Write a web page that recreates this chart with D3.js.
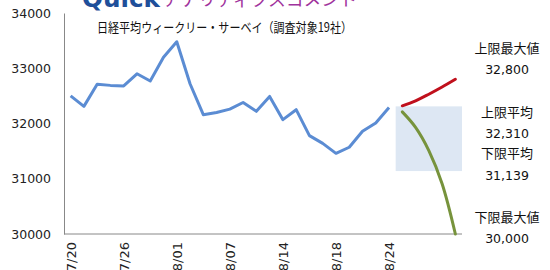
<!DOCTYPE html>
<html>
<head>
<meta charset="utf-8">
<script src="https://cdn.jsdelivr.net/npm/d3@7"></script>
<style>
  html, body { margin: 0; padding: 0; background: #fff; overflow: hidden; }
  svg { display: block; }
</style>
</head>
<body>
<div id="chart"></div>
<script>
// trading days, actual closes, then 5 forecast days
var dates = ["07/20","07/21","07/24","07/25","07/26","07/27","07/28","07/31",
  "08/01","08/02","08/03","08/04","08/07","08/08","08/09","08/10","08/14",
  "08/15","08/16","08/17","08/18","08/21","08/22","08/23","08/24",
  "08/25","08/28","08/29","08/30","08/31"];
var tickDates = ["07/20","07/26","08/01","08/07","08/14","08/18","08/24"];
var nikkei = [32500, 32310, 32710, 32690, 32680, 32900, 32770, 33200,
  33480, 32720, 32160, 32200, 32260, 32380, 32220, 32490, 32070,
  32250, 31780, 31640, 31460, 31570, 31860, 32010, 32290];
var forecastDates = ["08/25","08/28","08/29","08/30","08/31"];
var upperMax = [32320, 32410, 32530, 32660, 32800];
var lowerMax = [32210, 31930, 31510, 30910, 30000];
var yTicks = [30000, 31000, 32000, 33000, 34000];
var summary = [
  { name: "上限最大値", value: 32800 },
  { name: "上限平均", value: 32310 },
  { name: "下限平均", value: 31139 },
  { name: "下限最大値", value: 30000 }
];

var width = 550, height = 270;
var margin = { top: 13, right: 88, bottom: 36, left: 64 };

var svg = d3.select("#chart").append("svg")
  .attr("width", width)
  .attr("height", height);

var x = d3.scalePoint()
  .domain(dates)
  .range([margin.left, width - margin.right])
  .padding(0.5);

var y = d3.scaleLinear()
  .domain([30000, 34000])
  .range([height - margin.bottom, margin.top]);

var numFont = "'DejaVu Sans', Verdana, sans-serif";
var jpFont = "'Noto Sans CJK JP', sans-serif";

// header logo, mostly cut off at the top
svg.append("text")
  .attr("x", 82).attr("y", 7)
  .attr("textLength", 78).attr("lengthAdjust", "spacingAndGlyphs")
  .style("font-family", numFont).style("font-weight", "bold")
  .style("font-size", "24px").style("fill", "#1f4f9a")
  .text("Quick");
svg.append("text")
  .attr("x", 163).attr("y", 6)
  .attr("textLength", 194).attr("lengthAdjust", "spacingAndGlyphs")
  .style("font-family", jpFont).style("font-size", "18px").style("fill", "#a0329c")
  .text("アナリティクスコメント");

// forecast band between the averages
var step = x.step();
svg.append("rect")
  .attr("x", x(forecastDates[0]) - step / 2)
  .attr("width", x(forecastDates[forecastDates.length - 1]) - x(forecastDates[0]) + step)
  .attr("y", y(summary[1].value))
  .attr("height", y(summary[2].value) - y(summary[1].value))
  .style("fill", "#dde7f3");

// axes
var yAxis = svg.append("g")
  .attr("transform", "translate(" + margin.left + ",0)")
  .call(d3.axisLeft(y).tickValues(yTicks).tickFormat(d3.format("d")).tickSize(0).tickPadding(13));
yAxis.select(".domain").attr("stroke", "#888");
yAxis.selectAll("text")
  .style("font-family", numFont).style("font-size", "12.5px").style("fill", "#222");

var xAxis = svg.append("g")
  .attr("transform", "translate(0," + (height - margin.bottom) + ")")
  .call(d3.axisBottom(x).tickValues(tickDates).tickSize(0).tickPadding(0));
xAxis.select(".domain").attr("stroke", "#888")
  .attr("d", "M" + margin.left + ",0H" + (width - margin.right));
xAxis.selectAll("text")
  .attr("transform", "rotate(-90)")
  .attr("x", -8).attr("y", 0).attr("dy", "0.35em")
  .style("text-anchor", "end")
  .style("font-family", numFont).style("font-size", "13px").style("fill", "#222");

// title
svg.append("text")
  .attr("x", 97).attr("y", 32)
  .attr("textLength", 255).attr("lengthAdjust", "spacingAndGlyphs")
  .style("font-family", jpFont).style("font-size", "13px").style("fill", "#111")
  .text("日経平均ウィークリー・サーベイ（調査対象19社）");

// lines
var actualLine = d3.line()
  .x(function (d, i) { return x(dates[i]); })
  .y(function (d) { return y(d); });

svg.append("path")
  .datum(nikkei)
  .attr("d", actualLine)
  .attr("fill", "none")
  .attr("stroke", "#5b8cd3")
  .attr("stroke-width", 3)
  .attr("stroke-linejoin", "round");

var forecastLine = d3.line()
  .x(function (d, i) { return x(forecastDates[i]); })
  .y(function (d) { return y(d); })
  .curve(d3.curveCatmullRom);

svg.append("path")
  .datum(upperMax)
  .attr("d", forecastLine)
  .attr("fill", "none")
  .attr("stroke", "#c0101c")
  .attr("stroke-width", 3)
  .attr("stroke-linecap", "round");

svg.append("path")
  .datum(lowerMax)
  .attr("d", forecastLine)
  .attr("fill", "none")
  .attr("stroke", "#77933c")
  .attr("stroke-width", 3)
  .attr("stroke-linecap", "round");

// summary labels on the right
var labelY = [[53, 74], [117, 138], [158, 180], [222, 243]];
var labels = svg.append("g").attr("transform", "translate(507,0)");
summary.forEach(function (s, i) {
  labels.append("text")
    .attr("y", labelY[i][0])
    .attr("text-anchor", "middle")
    .style("font-family", jpFont).style("font-size", "13px").style("fill", "#111")
    .text(s.name);
  labels.append("text")
    .attr("y", labelY[i][1])
    .attr("text-anchor", "middle")
    .style("font-family", numFont).style("font-size", "12.5px").style("fill", "#111")
    .text(d3.format(",")(s.value));
});
</script>
</body>
</html>
